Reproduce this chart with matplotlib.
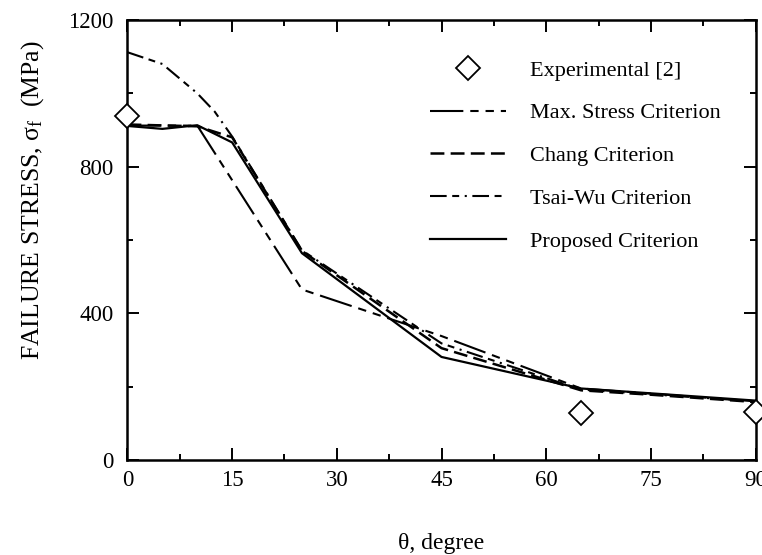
import matplotlib
matplotlib.use("Agg")
from matplotlib import pyplot as plt
from matplotlib.ticker import MultipleLocator

plt.rcParams['font.family'] = ['Liberation Serif', 'DejaVu Serif']
plt.rcParams['mathtext.fontset'] = 'custom'
plt.rcParams['mathtext.rm'] = 'Liberation Serif'
plt.rcParams['mathtext.it'] = 'Liberation Serif:italic'
plt.rcParams['lines.scale_dashes'] = False

# fibre angle (deg) vs failure stress (MPa)
theta_exp = [0, 65, 90]
stress_exp = [938, 128, 130]

theta_max = [0, 10, 25, 45, 65, 90]
stress_max = [912, 912, 465, 338, 195, 160]

theta_chang = [0, 10, 15, 25, 45, 65, 75, 90]
stress_chang = [915, 910, 880, 570, 305, 190, 178, 158]

theta_tsai = [0, 5, 7.5, 10, 12.5, 15, 25, 45, 65, 90]
stress_tsai = [1112, 1080, 1040, 1000, 950, 882, 572, 318, 192, 160]

theta_prop = [0, 5, 10, 15, 25, 45, 65, 90]
stress_prop = [911, 903, 913, 866, 564, 281, 195, 162]

fig = plt.figure(figsize=(7.62, 5.55), dpi=100)
ax = fig.add_axes([0.1673, 0.1712, 0.8242, 0.7928])

ax.plot(theta_exp, stress_exp, linestyle='none', marker='D', markersize=12,
        markerfacecolor='white', markeredgecolor='black', markeredgewidth=1.3,
        clip_on=False, zorder=5, label='Experimental [2]')
ax.plot(theta_max, stress_max, color='black', lw=1.5,
        dashes=[24, 5, 6, 5, 6, 5], label='Max. Stress Criterion')
ax.plot(theta_chang, stress_chang, color='black', lw=1.8,
        dashes=[10, 4.5], label='Chang Criterion')
ax.plot(theta_tsai, stress_tsai, color='black', lw=1.5,
        dashes=[12, 4, 5, 4, 1.5, 4], label='Tsai-Wu Criterion')
ax.plot(theta_prop, stress_prop, color='black', lw=1.6, label='Proposed Criterion')

ax.set_xlim(0, 90)
ax.set_ylim(0, 1200)
ax.xaxis.set_major_locator(MultipleLocator(15))
ax.xaxis.set_minor_locator(MultipleLocator(7.5))
ax.yaxis.set_major_locator(MultipleLocator(400))
ax.yaxis.set_minor_locator(MultipleLocator(200))
ax.tick_params(which='both', direction='in', top=True, right=True, width=1.4,
               labelsize=16.5)
ax.tick_params(which='major', length=8.6)
ax.tick_params(which='minor', length=4.3)
ax.tick_params(axis='y', pad=10)
ax.tick_params(axis='x', pad=7)
for s in ax.spines.values():
    s.set_linewidth(1.8)

ax.set_xlabel(r'θ, degree', fontsize=17)
ax.xaxis.set_label_coords(0.5, -0.165)
ax.set_ylabel(r'FAILURE STRESS, σ$_{\rm f}$  (MPa)', fontsize=18.5)
ax.yaxis.set_label_coords(-0.13, 0.59)

ax.legend(loc='upper left', bbox_to_anchor=(0.482, 0.909), frameon=False,
          fontsize=16, handlelength=3.4, handletextpad=1.1, labelspacing=1.0,
          borderpad=0, borderaxespad=0, numpoints=1)

fig.savefig('out.png', dpi=100)
